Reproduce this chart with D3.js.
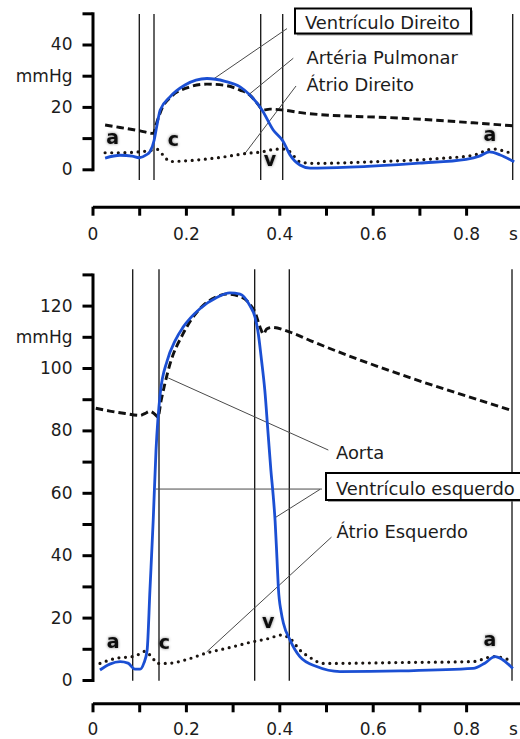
<!DOCTYPE html>
<html>
<head>
<meta charset="utf-8">
<script src="https://cdn.jsdelivr.net/npm/d3@7"></script>
<style>
  html, body { margin: 0; padding: 0; background: #fff; }
  svg { display: block; font-family: "DejaVu Sans", Verdana, sans-serif; }
</style>
</head>
<body>
<svg id="chart" width="520" height="739"></svg>
<script>
// Pressure curves over one cardiac cycle: [time (s), pressure (mmHg)]
const ventriculoDireito = [
  [0.027, 3.6], [0.059, 4.5], [0.085, 4.2], [0.100, 3.7], [0.115, 4.6], [0.123, 5.6],
  [0.132, 9.3], [0.138, 14.1], [0.145, 19.0], [0.166, 23.2], [0.198, 27.0], [0.245, 29.1],
  [0.284, 28.2], [0.316, 26.4], [0.337, 23.8], [0.363, 19.0], [0.387, 12.6], [0.408, 9.0],
  [0.423, 4.6], [0.444, 1.4], [0.466, 0.4], [0.550, 0.7], [0.700, 2.0], [0.800, 3.2],
  [0.830, 4.3], [0.850, 5.6], [0.873, 4.6], [0.903, 2.4]
];
const arteriaPulmonar = [
  [0.027, 14.2], [0.059, 13.4], [0.102, 12.3], [0.130, 11.5], [0.138, 15.2], [0.149, 19.6],
  [0.170, 23.5], [0.202, 26.1], [0.245, 27.3], [0.284, 26.9], [0.316, 25.4], [0.337, 23.8],
  [0.354, 20.9], [0.365, 19.0], [0.380, 19.3], [0.408, 19.0], [0.458, 17.9], [0.672, 16.3],
  [0.815, 14.9], [0.903, 13.9]
];
const atrioDireito = [
  [0.027, 5.3], [0.059, 5.3], [0.100, 5.6], [0.123, 6.0], [0.138, 6.4], [0.151, 4.6],
  [0.166, 2.5], [0.209, 2.8], [0.273, 3.8], [0.331, 5.1], [0.363, 5.6], [0.390, 6.4],
  [0.408, 6.5], [0.423, 5.6], [0.444, 2.4], [0.472, 1.9], [0.600, 2.4], [0.745, 3.5],
  [0.815, 4.5], [0.858, 6.5], [0.887, 5.6], [0.903, 4.8]
];
const ventriculoEsquerdo = [
  [0.016, 3.2], [0.037, 5.1], [0.059, 5.9], [0.076, 5.4], [0.091, 3.5], [0.102, 3.5],
  [0.110, 5.4], [0.117, 9.6], [0.123, 28.8], [0.130, 51.2], [0.136, 73.6], [0.145, 91.8],
  [0.160, 102.4], [0.177, 108.8], [0.194, 113.1], [0.230, 119.0], [0.267, 122.7],
  [0.294, 124.1], [0.316, 123.7], [0.337, 120.0], [0.348, 116.3], [0.354, 112.0],
  [0.362, 102.4], [0.369, 92.8], [0.376, 79.0], [0.382, 67.2], [0.387, 59.0], [0.391, 51.0],
  [0.395, 39.0], [0.398, 29.5], [0.404, 21.8], [0.409, 18.1], [0.423, 12.8], [0.444, 7.5],
  [0.480, 4.3], [0.530, 2.7], [0.659, 2.9], [0.815, 3.7], [0.840, 5.4], [0.862, 7.5],
  [0.879, 6.4], [0.900, 3.7]
];
const aorta = [
  [0.007, 87.1], [0.037, 86.2], [0.070, 85.4], [0.102, 84.8], [0.112, 85.4], [0.123, 86.1],
  [0.134, 85.1], [0.140, 84.3], [0.147, 89.6], [0.155, 95.0], [0.166, 101.3], [0.194, 111.0],
  [0.230, 119.0], [0.262, 122.6], [0.288, 123.7], [0.316, 122.9], [0.337, 120.5],
  [0.348, 117.9], [0.359, 113.0], [0.366, 110.9], [0.373, 112.5], [0.384, 113.0],
  [0.423, 111.5], [0.466, 108.8], [0.898, 86.4]
];
const atrioEsquerdo = [
  [0.016, 5.3], [0.052, 7.0], [0.085, 7.5], [0.102, 8.4], [0.112, 9.2], [0.123, 8.0],
  [0.132, 6.4], [0.138, 5.3], [0.160, 5.3], [0.198, 6.4], [0.245, 8.7], [0.294, 10.4],
  [0.344, 12.3], [0.380, 13.4], [0.402, 14.4], [0.423, 13.3], [0.444, 9.6], [0.466, 7.2],
  [0.494, 5.3], [0.659, 5.6], [0.815, 5.9], [0.858, 7.5], [0.894, 6.4]
];

// Valve events (vertical guide lines), in seconds
const eventosDireito = [0.1002, 0.1317, 0.3602, 0.4073, 0.8998];
const eventosEsquerdo = [0.0861, 0.1424, 0.3473, 0.4214, 0.8983];

// Atrial pressure waves
const ondasDireito = [
  { nome: "a", t: 0.043, p: 8.1 }, { nome: "c", t: 0.173, p: 7.6 },
  { nome: "v", t: 0.380, p: 1.2 }, { nome: "a", t: 0.851, p: 9.2 }
];
const ondasEsquerdo = [
  { nome: "a", t: 0.044, p: 10.4 }, { nome: "c", t: 0.154, p: 9.9 },
  { nome: "v", t: 0.376, p: 16.8 }, { nome: "a", t: 0.851, p: 11.0 }
];

// Axis ticks
const xTicks = [0, 0.1, 0.2, 0.3, 0.4, 0.5, 0.6, 0.7, 0.8];
const xTickLabels = ["0", "", "0.2", "", "0.4", "", "0.6", "", "0.8"];
const yTicksDireito = [0, 10, 20, 30, 40, 50];
const yLabelsDireito = ["0", "", "20", "mmHg", "40", ""];
const yTicksEsquerdo = [0, 10, 20, 30, 40, 50, 60, 70, 80, 90, 100, 110, 120, 130];
const yLabelsEsquerdo = ["0", "", "20", "", "40", "", "60", "", "80", "", "100", "mmHg", "120", ""];

// Leader lines for the curve names: [label end, curve end] as [t, p]
const guiasDireito = [
  [[0.4165, 45.1], [0.2587, 28.9]],
  [[0.4300, 35.6], [0.3336, 23.8]],
  [[0.4358, 26.7], [0.3266, 5.1]]
];
const guiasEsquerdo = [
  [[0.5050, 73.7], [0.1623, 96.8]],
  [[0.4914, 61.2], [0.1360, 61.2]],
  [[0.4872, 61.1], [0.3908, 52.0]],
  [[0.5118, 45.8], [0.2445, 9.0]]
];

const svg = d3.select("#chart");
const W = 520;
const BLUE = "#1b4fd3";
const INK = "#1c1c1c";

const x = d3.scaleLinear().domain([0, 0.9]).range([92.5, 512.8]);
const xAxisScale = d3.scaleLinear().domain([0, x.invert(W + 2)]).range([x(0), W + 2]);

const defs = svg.append("defs");
const glow = defs.append("filter").attr("id", "halo")
  .attr("x", "-50%").attr("y", "-50%").attr("width", "200%").attr("height", "200%");
glow.append("feGaussianBlur").attr("in", "SourceAlpha").attr("stdDeviation", 1.8).attr("result", "b");
glow.append("feComponentTransfer").attr("in", "b").attr("result", "bf")
  .append("feFuncA").attr("type", "linear").attr("slope", 0.5);
const merge = glow.append("feMerge");
merge.append("feMergeNode").attr("in", "bf");
merge.append("feMergeNode").attr("in", "SourceGraphic");

function panel(opts) {
  const y = d3.scaleLinear().domain(opts.yDomain).range(opts.yRange);
  const g = svg.append("g");

  // vertical event lines
  g.selectAll("line.evento").data(opts.eventos).join("line")
    .attr("class", "evento")
    .attr("x1", d => x(d)).attr("x2", d => x(d))
    .attr("y1", opts.vTop).attr("y2", opts.vBottom)
    .attr("stroke", "#111").attr("stroke-width", 1.3);

  // y axis
  const yAxis = d3.axisLeft(y).tickValues(opts.yTicks).tickSize(10).tickSizeOuter(0)
    .tickPadding(10).tickFormat((d, i) => opts.yLabels[i]);
  const ya = g.append("g").attr("transform", `translate(${x(0)},0)`).call(yAxis);
  ya.select(".domain").attr("stroke", "#000").attr("stroke-width", 3).attr("stroke-linecap", "square");
  ya.selectAll(".tick line").attr("stroke", "#000").attr("stroke-width", 3);
  ya.selectAll(".tick text").attr("font-size", 17).attr("fill", INK)
    .attr("font-family", '"DejaVu Sans", Verdana, sans-serif');

  // x axis
  const xAxis = d3.axisBottom(xAxisScale).tickValues(xTicks).tickSize(9).tickSizeOuter(0)
    .tickPadding(opts.xPad).tickFormat((d, i) => xTickLabels[i]);
  const xa = g.append("g").attr("transform", `translate(0,${opts.xAxisY})`).call(xAxis);
  xa.select(".domain").attr("stroke", "#000").attr("stroke-width", 3);
  xa.selectAll(".tick line").attr("stroke", "#000").attr("stroke-width", 3);
  xa.selectAll(".tick text").attr("font-size", 17).attr("fill", INK)
    .attr("font-family", '"DejaVu Sans", Verdana, sans-serif');
  g.append("text").attr("x", 509).attr("y", opts.xAxisY + opts.xPad + 9 + 12)
    .attr("font-size", 17).attr("fill", INK).text("s");

  // leader lines
  g.selectAll("line.guia").data(opts.guias).join("line")
    .attr("class", "guia")
    .attr("x1", d => x(d[0][0])).attr("y1", d => y(d[0][1]))
    .attr("x2", d => x(d[1][0])).attr("y2", d => y(d[1][1]))
    .attr("stroke", "#4a4a4a").attr("stroke-width", 1);

  const line = d3.line().x(d => x(d[0])).y(d => y(d[1])).curve(d3.curveMonotoneX);

  // atrial (dotted), arterial (dashed), ventricular (blue)
  g.append("path").attr("d", line(opts.atrio)).attr("fill", "none")
    .attr("stroke", "#1a1410").attr("stroke-width", 3.2)
    .attr("stroke-linecap", "round").attr("stroke-dasharray", "0 6.6");
  g.append("path").attr("d", line(opts.arteria)).attr("fill", "none")
    .attr("stroke", "#111").attr("stroke-width", 2.9).attr("stroke-dasharray", "7.5 4");
  g.append("path").attr("d", line(opts.ventriculo)).attr("fill", "none")
    .attr("stroke", BLUE).attr("stroke-width", 2.8).attr("stroke-linejoin", "round");

  // wave letters
  g.selectAll("text.onda").data(opts.ondas).join("text")
    .attr("class", "onda")
    .attr("x", d => x(d.t)).attr("y", d => y(d.p))
    .attr("text-anchor", "middle").attr("font-size", 19).attr("font-weight", "bold")
    .attr("fill", "#111").attr("filter", "url(#halo)")
    .text(d => d.nome);

  return { g, y };
}

panel({
  yDomain: [0, 50], yRange: [169.3, 13.3], yTicks: yTicksDireito, yLabels: yLabelsDireito,
  eventos: eventosDireito, vTop: 14, vBottom: 180, xAxisY: 206.7, xPad: 12.5,
  ventriculo: ventriculoDireito, arteria: arteriaPulmonar, atrio: atrioDireito,
  ondas: ondasDireito, guias: guiasDireito
});

panel({
  yDomain: [0, 130], yRange: [680, 274.4], yTicks: yTicksEsquerdo, yLabels: yLabelsEsquerdo,
  eventos: eventosEsquerdo, vTop: 269.3, vBottom: 680.7, xAxisY: 703.3, xPad: 10.5,
  ventriculo: ventriculoEsquerdo, arteria: aorta, atrio: atrioEsquerdo,
  ondas: ondasEsquerdo, guias: guiasEsquerdo
});

// curve names
const FS = 17.9;
function caixa(x0, y0, w, h) {
  svg.append("rect").attr("x", x0 + 2).attr("y", y0 + 2).attr("width", w).attr("height", h)
    .attr("fill", "#555").attr("opacity", 0.55);
  svg.append("rect").attr("x", x0).attr("y", y0).attr("width", w).attr("height", h)
    .attr("fill", "#fff").attr("stroke", "#000").attr("stroke-width", 2);
}
caixa(295, 8.5, 176, 25);
caixa(326, 473, 220, 27);

const nomes = [
  { texto: "Ventrículo Direito", x: 305, y: 28.5 },
  { texto: "Artéria Pulmonar", x: 306.5, y: 63.5 },
  { texto: "Átrio Direito", x: 306.5, y: 90.5 },
  { texto: "Aorta", x: 336, y: 459 },
  { texto: "Ventrículo esquerdo", x: 336, y: 495 },
  { texto: "Átrio Esquerdo", x: 336.5, y: 538 }
];
svg.selectAll("text.nome").data(nomes).join("text")
  .attr("class", "nome")
  .attr("x", d => d.x).attr("y", d => d.y)
  .attr("font-size", FS).attr("fill", INK)
  .text(d => d.texto);
</script>
</body>
</html>
